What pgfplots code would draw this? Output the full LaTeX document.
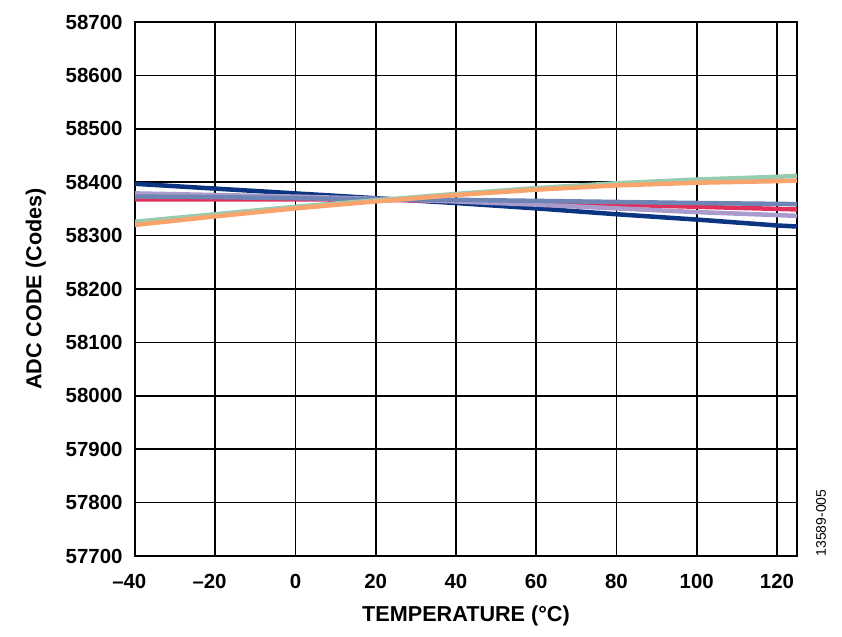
\documentclass[border=0pt]{standalone}
\usepackage{fontspec}
\setmainfont{Liberation Sans}
\usepackage{pgfplots}
\pgfplotsset{compat=1.18}
\definecolor{cnavy}{HTML}{0B3580}
\definecolor{cblue}{HTML}{6D84B5}
\definecolor{cred}{HTML}{E2305A}
\definecolor{cpurp}{HTML}{A99BCB}
\definecolor{cgreen}{HTML}{98CCB0}
\definecolor{corange}{HTML}{F9A46C}
\begin{document}
\begin{tikzpicture}
\useasboundingbox (0,0) rectangle (842bp,637bp);
\begin{axis}[
  at={(135bp,81bp)}, anchor=south west,
  scale only axis, width=662bp, height=534bp,
  xmin=-40, xmax=125, ymin=57700, ymax=58700,
  scaled y ticks=false,
  xtick={-40,-20,0,20,40,60,80,100,120},
  xticklabels={\llap{\textendash}40,\llap{\textendash}20,0,20,40,60,80,100,120},
  ytick={57700,57800,57900,58000,58100,58200,58300,58400,58500,58600,58700},
  yticklabels={57700,57800,57900,58000,58100,58200,58300,58400,58500,58600,58700},
  tick style={draw=none},
  grid=major,
  major grid style={black, line width=1.6bp},
  axis line style={black, line width=2.4bp},
  ticklabel style={font=\fontsize{20.5}{24}\selectfont\bfseries},
  yticklabel style={xshift=-9bp},
  xticklabel style={yshift=-15bp},
  xlabel={TEMPERATURE (°C)},
  ylabel={ADC CODE (Codes)},
  label style={font=\fontsize{21.7}{26}\selectfont\bfseries},
  xlabel style={yshift=-10bp},
  ylabel style={yshift=13bp},
  every axis plot/.append style={line width=4.5bp, mark=none},
]
\addplot[cnavy] coordinates {(-40,58397) (-20,58388) (0,58379) (20,58370) (40,58361) (60,58351) (80,58340) (100,58330) (120,58319) (125,58317)};
\addplot[cred] coordinates {(-40,58368) (-20,58368) (0,58368) (20,58367) (40,58365) (60,58362) (80,58358) (100,58354) (125,58349)};
\addplot[cpurp] coordinates {(-40,58379) (-20,58376) (0,58373) (20,58369) (40,58364) (60,58358) (80,58351) (100,58344) (125,58337)};
\addplot[cblue] coordinates {(-40,58373) (-20,58372) (0,58370) (20,58368) (40,58367) (60,58365) (80,58363) (100,58361) (125,58359)};
\addplot[cgreen] coordinates {(-40,58326) (-20,58340) (0,58354) (20,58366) (40,58378) (60,58389) (80,58398) (100,58405) (120,58410) (125,58412)};
\addplot[corange] coordinates {(-40,58320) (-20,58336) (0,58351) (20,58364) (40,58376) (60,58386) (80,58394) (100,58399) (120,58402) (125,58403)};
\end{axis}
\node[rotate=90, font=\fontsize{14}{16}\selectfont] at (821bp,114bp) {13589-005};
\end{tikzpicture}
\end{document}
